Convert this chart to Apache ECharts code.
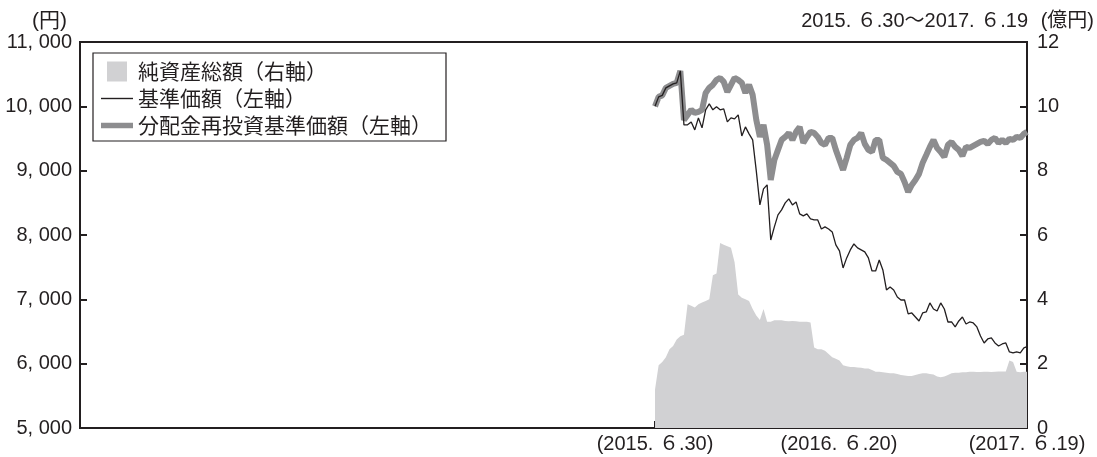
<!DOCTYPE html>
<html>
<head>
<meta charset="utf-8">
<script src="https://cdn.jsdelivr.net/npm/echarts@6/dist/echarts.min.js"></script>
<style>
html,body{margin:0;padding:0;background:#fff;}
#chart{width:1097px;height:457px;}
</style>
</head>
<body>
<div id="chart"></div>
<script>
// ---- data ----
const axisStart = '2012-06-12';
const firstDate = '2015-06-30';
const lastDate = '2017-06-19';
const tickDates = ['2015-06-30', '2016-06-20', '2017-06-19'];
const tickLabels = ['(2015. ６.30)', '(2016. ６.20)', '(2017. ６.19)'];
const leftAxisName = '(円)';
const rightAxisName = '(億円)';
const periodText = '2015. ６.30～2017. ６.19';

// weekly readings starting 2015-06-30, last value at 2017-06-19
const navBase = [
  10000, 10147, 10170, 10287, 10318, 10349, 10365, 10551, 9712, 9712,
  9758, 9634, 9820, 9665, 9945, 10038, 9945, 9992, 9945, 9960,
  9758, 9820, 9805, 9867, 9540, 9680, 9572, 9478, 8996, 8468,
  8716, 8779, 7923, 8126, 8312, 8390, 8499, 8561, 8468, 8514,
  8328, 8297, 8328, 8250, 8234, 8234, 8094, 8126, 8094, 8048,
  7846, 7752, 7488, 7644, 7768, 7861, 7799, 7768, 7737, 7644,
  7441, 7441, 7612, 7457, 7146, 7193, 7146, 7037, 6990, 6990,
  6773, 6788, 6726, 6664, 6788, 6804, 6944, 6850, 6819, 6944,
  6850, 6648, 6648, 6571, 6664, 6726, 6617, 6648, 6633, 6571,
  6431, 6322, 6384, 6400, 6322, 6275, 6306, 6322, 6182, 6166,
  6182, 6166, 6244, 6264
];
const navReinvested = [
  10000, 10147, 10170, 10287, 10318, 10349, 10365, 10551, 9789, 9867,
  9945, 9898, 9914, 9945, 10209, 10287, 10334, 10411, 10442, 10380,
  10225, 10334, 10442, 10411, 10365, 10209, 10334, 10178, 9789, 9525,
  9712, 9401, 8856, 9167, 9323, 9478, 9525, 9587, 9478, 9603,
  9680, 9432, 9525, 9603, 9587, 9525, 9432, 9401, 9509, 9509,
  9323, 9167, 9012, 9199, 9401, 9478, 9509, 9587, 9416, 9323,
  9292, 9478, 9478, 9199, 9167, 9121, 9074, 8981, 8950, 8825,
  8670, 8778, 8856, 8950, 9121, 9245, 9370, 9478, 9354, 9292,
  9214, 9401, 9447, 9370, 9323, 9230, 9370, 9354, 9385, 9416,
  9447, 9463, 9416, 9478, 9509, 9432, 9478, 9432, 9494, 9478,
  9525, 9509, 9572, 9603
];
const netAssets = [
  1.2, 1.95, 2.05, 2.2, 2.45, 2.55, 2.75, 2.85, 2.9, 3.85,
  3.8, 3.75, 3.85, 3.9, 3.95, 4.0, 4.75, 4.8, 5.75, 5.7,
  5.65, 5.6, 5.15, 4.15, 4.05, 4.0, 3.95, 3.7, 3.5, 3.36,
  3.7, 3.3, 3.3, 3.35, 3.35, 3.35, 3.33, 3.32, 3.33, 3.32,
  3.3, 3.3, 3.3, 3.28, 2.5, 2.45, 2.45, 2.4, 2.3, 2.2,
  2.15, 2.1, 1.95, 1.92, 1.9, 1.9, 1.88, 1.87, 1.85, 1.85,
  1.8, 1.75, 1.75, 1.73, 1.72, 1.7, 1.7, 1.68, 1.65, 1.63,
  1.62, 1.62, 1.65, 1.68, 1.7, 1.7, 1.68, 1.66, 1.6, 1.58,
  1.6, 1.65, 1.7, 1.72, 1.72, 1.73, 1.73, 1.75, 1.75, 1.74,
  1.74, 1.75, 1.75, 1.74, 1.75, 1.76, 1.76, 1.76, 2.1, 2.05,
  1.75, 1.73, 1.75, 1.75
];
const seriesNames = ['純資産総額（右軸）', '基準価額（左軸）', '分配金再投資基準価額（左軸）'];

// ---- build ----
const DAY = 86400000;
function ts(s) { const p = s.split('-').map(Number); return Date.UTC(p[0], p[1] - 1, p[2]); }
const dates = navBase.map((_, i) => i === navBase.length - 1 ? ts(lastDate) : ts(firstDate) + i * 7 * DAY);
const pair = arr => arr.map((v, i) => [dates[i], v]);
const tickTs = tickDates.map(ts);

const FONT = "'Liberation Sans', 'Noto Sans CJK JP', sans-serif";
const INK = '#231f20';
const GRAY = '#8d8d8f';
const AREA = '#d1d1d3';

const chart = echarts.init(document.getElementById('chart'), null, { renderer: 'canvas' });
chart.setOption({
  animation: false,
  backgroundColor: '#fff',
  textStyle: { fontFamily: FONT },
  grid: { left: 80, right: 70, top: 42, bottom: 29, show: true, borderColor: INK, borderWidth: 2, backgroundColor: 'transparent' },
  legend: {
    orient: 'vertical', left: 93, top: 53,
    padding: [8, 14, 5, 8], itemGap: 6, itemWidth: 32, itemHeight: 20,
    borderColor: INK, borderWidth: 1.2, backgroundColor: '#fff',
    textStyle: { fontSize: 21, color: INK, fontFamily: "'Noto Sans CJK JP', sans-serif" },
    data: [
      { name: seriesNames[0], icon: 'path://M0,0H21V21H0Z', itemStyle: { color: AREA } },
      { name: seriesNames[1], icon: 'path://M0,0H32V1.4H0Z', itemStyle: { color: INK } },
      { name: seriesNames[2], icon: 'path://M0,0H32V5.5H0Z', itemStyle: { color: GRAY } }
    ]
  },
  xAxis: {
    type: 'value', min: ts(axisStart), max: ts(lastDate),
    axisLine: { lineStyle: { color: INK, width: 2 } },
    axisTick: { inside: true, length: 7, lineStyle: { color: INK, width: 2 }, customValues: tickTs },
    axisLabel: {
      customValues: tickTs, color: INK, fontSize: 20, margin: 6,
      formatter: v => { const i = tickTs.indexOf(+v); return i >= 0 ? tickLabels[i] : ''; }
    },
    splitLine: { show: false }
  },
  yAxis: [
    {
      type: 'value', min: 5000, max: 11000, interval: 1000, position: 'left',
      axisLine: { show: true, lineStyle: { color: INK, width: 2 } },
      axisTick: { show: true, inside: true, length: 7, lineStyle: { color: INK, width: 2 } },
      axisLabel: { color: INK, fontSize: 20, margin: 8, formatter: v => String(v).replace(/\B(?=(\d{3})+(?!\d))/g, ', ') },
      splitLine: { show: false }
    },
    {
      type: 'value', min: 0, max: 12, interval: 2, position: 'right',
      axisLine: { show: true, lineStyle: { color: INK, width: 2 } },
      axisTick: { show: true, inside: true, length: 7, lineStyle: { color: INK, width: 2 } },
      axisLabel: { color: INK, fontSize: 20, margin: 10 },
      splitLine: { show: false }
    }
  ],
  graphic: [
    { type: 'text', left: 32, top: 11, style: { text: leftAxisName, font: "21px " + FONT, fill: INK } },
    { type: 'text', right: 69, top: 11, style: { text: periodText, font: "20px " + FONT, fill: INK } },
    { type: 'text', right: 3, top: 11, style: { text: rightAxisName, font: "20px " + FONT, fill: INK } }
  ],
  series: [
    {
      name: seriesNames[0], type: 'line', yAxisIndex: 1, data: pair(netAssets),
      symbol: 'none', showSymbol: false, color: AREA, lineStyle: { width: 0 },
      areaStyle: { color: AREA, opacity: 1 }, z: 1
    },
    {
      name: seriesNames[2], type: 'line', data: pair(navReinvested),
      symbol: 'none', showSymbol: false, color: GRAY, lineStyle: { width: 6, color: GRAY }, z: 2
    },
    {
      name: seriesNames[1], type: 'line', data: pair(navBase),
      symbol: 'none', showSymbol: false, color: INK, lineStyle: { width: 1.3, color: INK }, z: 3
    }
  ]
});
</script>
</body>
</html>
